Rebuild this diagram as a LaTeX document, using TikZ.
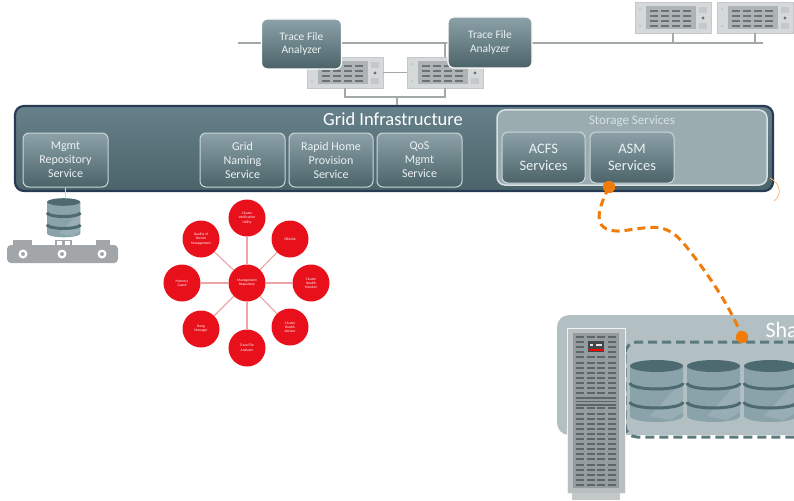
\documentclass[tikz,border=0pt]{standalone}
\usepackage{fontspec}
\setmainfont{Carlito}
\usetikzlibrary{calc}

\definecolor{wire}{HTML}{A3A8AB}
\definecolor{srvbody}{HTML}{D6D9DA}
\definecolor{srvedge}{HTML}{C4C8CA}
\definecolor{srvpanel}{HTML}{AEB3B6}
\definecolor{srvslot}{HTML}{6C7376}
\definecolor{gridtop}{HTML}{67818A}
\definecolor{gridbot}{HTML}{4B636A}
\definecolor{gridedge}{HTML}{283B55}
\definecolor{svctop}{HTML}{8CA2A8}
\definecolor{svcbot}{HTML}{4A6268}
\definecolor{svcedge}{HTML}{CBD6D8}
\definecolor{svctext}{HTML}{ECF1F2}
\definecolor{storfill}{HTML}{9BACB0}
\definecolor{storedge}{HTML}{D7E1E3}
\definecolor{oraclered}{HTML}{E8101B}
\definecolor{spoke}{HTML}{EBA3A6}
\definecolor{link}{HTML}{F27C0A}
\definecolor{panelgray}{HTML}{B2BFC3}
\definecolor{dashteal}{HTML}{5B7A7D}
\definecolor{cylbody}{HTML}{8AA2AA}
\definecolor{cyldark}{HTML}{4E6A71}
\definecolor{belt}{HTML}{A2A6A8}
\definecolor{towerbody}{HTML}{B9BEC0}
\definecolor{towerpanel}{HTML}{959C9F}
\definecolor{towerslot}{HTML}{5E6568}

\tikzset{
  conn/.style={draw=wire, line width=1.3pt},
  svcbox/.style={rounded corners=6pt, top color=svctop, bottom color=svcbot,
    draw=svcedge, line width=1pt, align=center, text=svctext,
    font=\fontsize{12}{14}\selectfont, inner sep=2pt},
  tfabox/.style={svcbox, font=\fontsize{11.5}{13.5}\selectfont, draw=white, line width=1.2pt},
  redball/.style={circle, fill=oraclered, minimum size=37pt, inner sep=0pt,
    text=white, align=center, font=\fontsize{3.6}{4.2}\selectfont},
  spokeline/.style={draw=spoke, line width=1.1pt},
  orangelink/.style={draw=link, line width=3pt, dash pattern=on 8pt off 5pt},
  orangedot/.style={circle, fill=link, minimum size=12pt, inner sep=0pt},
  % rack server seen from the front
  rackserver/.pic={
    \fill[srvbody, draw=srvedge, line width=0.6pt] (0,0) rectangle (76,31);
    \fill[srvpanel] (11,4) rectangle (61,27);
    \foreach \i in {0,...,3}{
      \foreach \j in {0,...,3}{
        \fill[srvslot] ({15+\i*11},{8+\j*5}) rectangle ++(8,2.2);
      }
    }
    \fill[srvedge] (64,5) rectangle (72,11);
    \fill[srvslot] (68,16) circle (1.6);
    \fill[srvedge] (64,21) rectangle (72,27);
    \fill[srvedge] (5,7) circle (1.3);
    \fill[srvedge] (5,24) circle (1.3);
    \coordinate (-top) at (38,0);
    \coordinate (-bot) at (38,31);
    \coordinate (-l) at (0,15.5);
    \coordinate (-r) at (76,15.5);
  },
  % disk cylinder
  disk/.pic={
    \fill[cylbody] (0,0) -- (0,50) arc[start angle=180, end angle=0, x radius=26.5, y radius=6]
      -- (53,0) -- cycle;
    \fill[white, opacity=0.12] (20,50) -- (53,14) -- (53,46) -- (40,54) -- cycle;
    \draw[cyldark, line width=3pt] (0,17) arc[start angle=180, end angle=0, x radius=26.5, y radius=6];
    \draw[cyldark, line width=3pt] (0,36) arc[start angle=180, end angle=0, x radius=26.5, y radius=6];
    \fill[cyldark] (26.5,0) ellipse[x radius=26.5, y radius=6];
    \coordinate (-top) at (26.5,-6);
  },
  % tower storage cabinet
  tower/.pic={
    \fill[towerbody, draw=white!80!towerbody, line width=1pt] (0,0) rectangle (58,165);
    \fill[towerbody!85!white] (5,165) rectangle (53,172);
    \fill[towerpanel] (6,5) rectangle (52,160);
    \foreach \r in {0,...,29}{
      \ifnum\r=12\relax\else\ifnum\r=13\relax\else
      \foreach \c in {0,...,3}{
        \fill[towerslot] ({9+\c*10.6},{8+\r*5.1}) rectangle ++(8,2);
      }\fi\fi
    }
    \foreach \r in {0,1,2}{
      \fill[towerslot] (9,{69+\r*3.6}) rectangle (49,{70.6+\r*3.6});
    }
    \fill[towerpanel] (19,12) rectangle (39,25);
    \fill[towerslot!70!black] (21,13) rectangle (37,24);
    \fill[white!80!gray] (23,16) rectangle (26,18);
    \fill[white!80!gray] (29,16) rectangle (35,18);
    \fill[red] (22,21) rectangle (36,23);
  },
}

\begin{document}
\begin{tikzpicture}[x=1pt, y=-1pt]
\useasboundingbox (0,0) rectangle (794,500);
\clip (0,0) rectangle (794,500);

% ---------- monitoring network at the top ----------
\coordinate (lineL) at (238,43);
\coordinate (lineR) at (763,43);
\draw[conn] (lineL) -- (lineR);

\pic (s1) at (307,57) {rackserver};
\pic (s2) at (407,57) {rackserver};
\pic (s3) at (635,2) {rackserver};
\pic (s4) at (717,2) {rackserver};

\draw[conn] (s1-r) -- (s2-l);
\draw[conn] (s2-top) -- (s2-top |- lineL);
\draw[conn] (s3-bot) -- (s3-bot |- lineL);
\draw[conn] (s4-bot) -- (s4-bot |- lineL);
\draw[conn] (s1-bot) -- ++(0,9) -| (s2-bot);
\coordinate (bm) at (397,97);

\node[tfabox, minimum width=80pt, minimum height=50pt] (tfa1) at (301.5,44) {Trace File\\Analyzer};
\node[tfabox, minimum width=84pt, minimum height=51pt] (tfa2) at (490,42.5) {Trace File\\Analyzer};

% ---------- grid infrastructure bar ----------
\node[rounded corners=9pt, top color=gridtop, bottom color=gridbot, draw=gridedge,
      line width=2.2pt, minimum width=758pt, minimum height=85pt] (grid) at (394,148.5) {};
\draw[conn] (bm) -- (bm |- grid.north);
\node[text=white, font=\fontsize{18.5}{21}\selectfont] (gridlabel) at (393,119) {Grid Infrastructure};

\node[svcbox, minimum width=85pt, minimum height=54pt] (mrs) at (65.5,160) {Mgmt\\Repository\\Service};
\node[svcbox, minimum width=85pt, minimum height=54pt] (gns) at (242.5,160) {Grid\\Naming\\Service};
\node[svcbox, minimum width=84pt, minimum height=54pt] (rhp) at (331,160) {Rapid Home\\Provision\\Service};
\node[svcbox, minimum width=85pt, minimum height=54pt] (qos) at (419.5,160) {QoS\\Mgmt\\Service};

\node[rounded corners=8pt, fill=storfill, draw=storedge, line width=1.5pt,
      minimum width=270pt, minimum height=75pt] (stor) at (632,147.5) {};
\node[text=storedge, font=\fontsize{13}{15}\selectfont] (storlabel) at (632,121) {Storage Services};
\node[svcbox, font=\fontsize{14.5}{16.5}\selectfont, minimum width=83pt, minimum height=51pt] (acfs) at (543.5,157.5) {ACFS\\Services};
\node[svcbox, font=\fontsize{14.5}{16.5}\selectfont, minimum width=84pt, minimum height=51pt] (asm) at (632,157.5) {ASM\\Services};

% faint orange arc at the bar corner
\draw[link!55, line width=0.8pt] (770,178) .. controls (781,184) and (782,195) .. (774,201);

% ---------- repository database on its conveyor ----------
\fill[belt, rounded corners=4pt] (7,245) rectangle (118,263);
\fill[belt] (13,240) rectangle (32,246);
\fill[belt] (96,240) rectangle (110,246);
\fill[belt] (55,240) rectangle (72,246);
\fill[white] (57,241) rectangle (62,245);
\fill[white] (65,241) rectangle (70,245);
\foreach \wx in {23,62,102}{
  \fill[white] (\wx,254) circle (4.5);
  \fill[belt] (\wx,254) circle (2);
}
\pic[scale=0.63] (db) at (47,202) {disk};
\draw[conn, draw=svcedge, line width=0.8pt] (mrs.south) -- (mrs.south |- db-top);

% ---------- management repository and its clients ----------
\node[redball] (mr) at (247,283) {Management\\Repository};
\node[redball] (cvu) at (247,218) {Cluster\\Verification\\Utility};
\node[redball] (orachk) at (290,239) {ORAchk};
\node[redball] (chm) at (311,283) {Cluster\\Health\\Monitor};
\node[redball] (cha) at (290,327) {Cluster\\Health\\Advisor};
\node[redball] (tfa) at (247,348) {Trace File\\Analyzer};
\node[redball] (hang) at (201,329) {Hang\\Manager};
\node[redball] (memg) at (182,283) {Memory\\Guard};
\node[redball] (qosm) at (201,239) {Quality of\\Service\\Management};
\foreach \n in {cvu,orachk,chm,cha,tfa,hang,memg,qosm}{
  \draw[spokeline] (mr) -- (\n);
}

% ---------- shared storage ----------
\fill[panelgray, rounded corners=12pt] (557,315) rectangle (830,435);
\node[anchor=west, text=white, font=\fontsize{22}{24}\selectfont] (shared) at (762,332) {Shared Storage};
\draw[dashteal, line width=3pt, dash pattern=on 9pt off 5pt, rounded corners=12pt]
  (625,342) rectangle (840,437);
\pic (d1) at (630,366) {disk};
\pic (d2) at (687,366) {disk};
\pic (d3) at (744,366) {disk};
\pic (tw) at (567,328) {tower};

% ---------- ASM to shared storage link ----------
\node[orangedot] (asmdot) at (609,187) {};
\node[orangedot] (diskdot) at (742,337) {};
\draw[orangelink] (asmdot.center) .. controls (600,205) and (588,232) .. (620,231)
  .. controls (650,228) and (665,220) .. (685,245)
  .. controls (705,270) and (730,305) .. (diskdot.center);
\node[orangedot] at (asmdot) {};
\node[orangedot] at (diskdot) {};
\end{tikzpicture}
\end{document}
